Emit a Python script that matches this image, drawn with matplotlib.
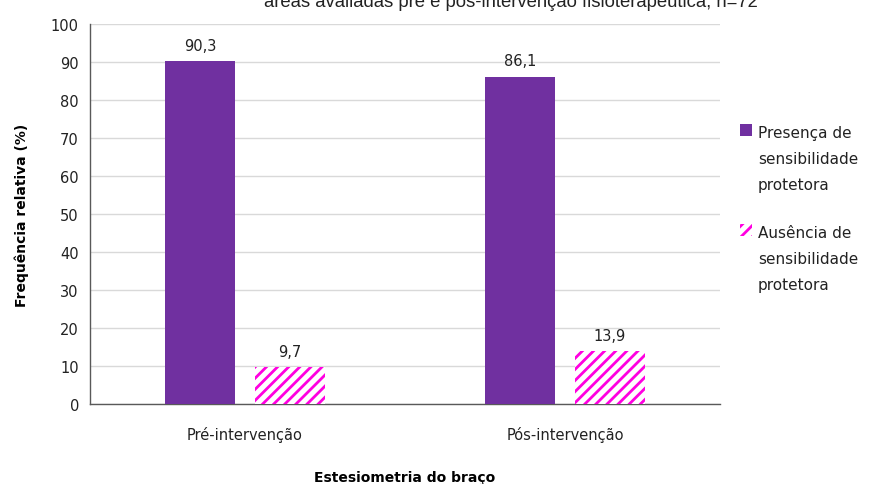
import matplotlib
matplotlib.use("Agg")
import matplotlib.pyplot as plt
import numpy as np
from matplotlib.patches import Rectangle

plt.rcParams['hatch.linewidth'] = 2.0

categories = ["Pré-intervenção", "Pós-intervenção"]
series_names = ["Presença de\nsensibilidade\nprotetora", "Ausência de\nsensibilidade\nprotetora"]
presenca = [90.3, 86.1]
ausencia = [9.7, 13.9]
yticks = [0, 10, 20, 30, 40, 50, 60, 70, 80, 90, 100]

purple = "#7030A0"
pink = "#FF00E0"
font = "DejaVu Sans"
W, H = 869, 485

fig = plt.figure(figsize=(8.69, 4.85), dpi=100)
ax = fig.add_axes([90/W, 1-405/H, (720-90)/W, (405-25)/H])

x = np.arange(len(categories))
w = 0.22
off = 0.14
b1 = ax.bar(x - off, presenca, w, color=purple, zorder=3)
b2 = ax.bar(x + off, ausencia, w, color="white", edgecolor=pink, hatch="///", linewidth=0, zorder=3)

for bars, vals in ((b1, presenca), (b2, ausencia)):
    for r, v in zip(bars, vals):
        ax.annotate(f"{v:.1f}".replace(".", ","), (r.get_x() + r.get_width()/2, v),
                    xytext=(0, 6), textcoords="offset points", ha="center", va="bottom",
                    fontsize=10.5, color="#222222", family=font)

ax.set_xlim(-0.484, 1.484)
ax.set_ylim(0, 100)
ax.set_yticks(yticks)
ax.set_yticklabels([str(t) for t in yticks], fontsize=10.5, color="#222222", family=font)
ax.set_xticks(x)
ax.set_xticklabels(categories, fontsize=10.5, color="#222222", family=font)
ax.tick_params(axis="both", length=0, pad=8)
ax.tick_params(axis="x", pad=16)
ax.grid(axis="y", color="#D9D9D9", linewidth=1, zorder=0)
for s in ("top", "right"):
    ax.spines[s].set_visible(False)
for s in ("left", "bottom"):
    ax.spines[s].set_color("#595959")
    ax.spines[s].set_linewidth(1)

ax.set_ylabel("Frequência relativa (%)", fontsize=10, fontweight="bold", family=font, labelpad=16)
ax.set_xlabel("Estesiometria do braço", fontsize=10, fontweight="bold", family=font, labelpad=20)

# legend (drawn manually so the key aligns with the first text line)
styles = [dict(facecolor=purple, edgecolor="none"),
          dict(facecolor="white", edgecolor=pink, hatch="///", linewidth=0)]
for i, (name, st) in enumerate(zip(series_names, styles)):
    base = 138 + i * 100
    fig.add_artist(Rectangle((740/W, 1-(base-1)/H), 12/W, 12/H,
                             transform=fig.transFigure, **st))
    for j, line in enumerate(name.split("\n")):
        fig.text(758/W, 1-(base + j*26)/H, line, ha="left", va="baseline",
                 fontsize=11, family=font, color="#222222")

fig.text(511/W, 1-7/H, "áreas avaliadas pré e pós-intervenção fisioterapêutica, n=72",
         ha="center", va="baseline", fontsize=13.3, family="Liberation Sans", color="#222222")

fig.savefig("out.png", dpi=100)
